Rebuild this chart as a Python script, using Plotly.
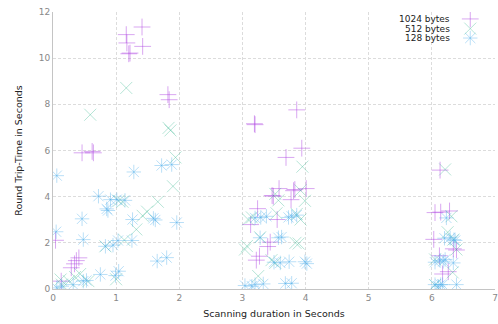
import plotly.graph_objects as go

# 1024 bytes
x1024 = [0.04, 0.13, 0.29, 0.34, 0.37, 0.41, 0.46, 0.62, 0.64,
         1.16, 1.17, 1.20, 1.22, 1.41, 1.42, 1.82, 1.84,
         3.19, 3.20, 3.86, 3.94, 3.69, 3.58, 3.49, 3.47, 3.81, 3.83, 4.01, 3.77,
         3.24, 3.55, 3.13, 3.44, 3.40, 3.27, 3.22,
         6.13, 6.05, 6.14, 6.28, 6.03, 6.34, 6.39, 6.12, 6.17, 6.26]
y1024 = [2.11, 0.34, 0.92, 1.09, 1.23, 1.35, 5.90, 5.96, 5.90,
         11.02, 10.66, 10.19, 10.22, 11.35, 10.51, 8.42, 8.20,
         7.16, 7.12, 7.76, 6.10, 5.70, 4.35, 4.02, 4.05, 4.26, 4.31, 4.35, 3.87,
         3.48, 3.01, 2.79, 2.03, 1.84, 1.42, 1.25,
         5.15, 3.31, 3.33, 3.38, 2.15, 1.74, 1.69, 1.44, 0.65, 0.75]

# 512 bytes
x512 = [0.59, 1.16, 1.83, 1.86, 1.94, 1.90, 1.66, 1.49, 1.42, 1.32, 1.13, 1.04, 1.10,
        0.83, 0.43, 0.35, 0.25, 0.14, 0.12, 0.56, 1.00,
        3.95, 3.52, 3.57, 3.92, 3.99, 3.15, 3.09, 3.54, 3.86, 3.92, 3.28, 3.84, 3.89,
        3.07, 3.04, 3.46, 3.52, 3.25,
        6.21, 6.31, 6.25, 6.34, 6.39, 6.05, 6.33, 6.05]
y512 = [7.55, 8.71, 6.98, 6.87, 5.70, 4.45, 3.78, 3.35, 3.17, 2.58, 2.12, 3.82, 3.78,
        1.85, 0.65, 0.52, 0.34, 0.19, 0.41, 0.34, 0.42,
        5.30, 4.12, 3.84, 4.27, 3.82, 3.10, 3.01, 3.28, 3.25, 3.01, 2.24, 2.00, 1.97,
        1.86, 1.71, 1.25, 1.13, 0.56,
        5.18, 3.15, 2.46, 2.14, 1.71, 1.28, 0.72, 0.17]

# 128 bytes
x128 = [0.06, 0.72, 0.91, 0.85, 0.87, 1.01, 1.14, 1.28, 1.72, 1.88, 0.46, 1.26, 1.59, 1.62,
        1.96, 0.05, 0.48, 0.83, 0.95, 1.03, 1.25, 1.65, 1.80, 0.75, 0.99, 1.04,
        0.53, 0.48, 0.32, 0.14, 0.06,
        3.04, 3.15, 3.20, 3.33, 3.68, 3.78, 3.50, 3.60, 3.74, 3.99, 4.02,
        3.28, 3.57, 3.62, 3.20, 3.29, 3.38, 3.73, 3.78, 3.86,
        6.05, 6.14, 6.39, 6.10, 6.17, 6.05, 6.13, 6.18, 6.21, 6.34, 6.20, 6.29,
        6.35, 6.37, 6.23]
y128 = [4.91, 4.02, 3.87, 3.47, 3.40, 3.87, 3.84, 5.07, 5.35, 5.39, 3.04, 3.01, 3.06, 2.99,
        2.88, 2.48, 2.14, 1.85, 1.90, 2.10, 2.10, 1.21, 1.36, 0.63, 0.58, 0.77,
        0.37, 0.34, 0.19, 0.12, 0.05,
        0.15, 0.12, 0.19, 0.22, 0.24, 0.25, 1.16, 1.13, 1.18, 1.18, 1.10,
        2.22, 2.22, 2.25, 3.08, 3.10, 3.15, 3.10, 3.15, 3.20,
        0.19, 0.19, 0.19, 0.12, 0.19, 1.16, 1.24, 1.20, 1.28, 1.13, 2.20, 2.22,
        2.14, 2.10, 3.08]

labels = ["1024 bytes", "512 bytes", "128 bytes"]
xticks = [0, 1, 2, 3, 4, 5, 6, 7]
yticks = [0, 2, 4, 6, 8, 10, 12]

FONT = "DejaVu Sans"
series = [
    (x1024, y1024, "cross-thin-open", "rgba(175,70,225,0.6)", 12),
    (x512, y512, "x-thin-open", "rgba(50,180,140,0.45)", 12),
    (x128, y128, "asterisk-open", "rgba(80,175,235,0.5)", 12),
]

fig = go.Figure()
for (xs, ys, sym, col, sz), name in zip(series, labels):
    fig.add_trace(go.Scatter(
        x=xs, y=ys, mode="markers", name=name, showlegend=False,
        marker=dict(symbol=sym, size=sz, color=col, line=dict(color=col, width=0.8)),
        hoverinfo="skip"))

# custom legend (symbol on the right of right-aligned text)
leg_y = [0.975, 0.94, 0.906]
for (xs, ys, sym, col, sz), name, ly in zip(series, labels, leg_y):
    fig.add_trace(go.Scatter(
        x=[0.944], y=[ly], xaxis="x2", yaxis="y2", mode="markers", showlegend=False,
        marker=dict(symbol=sym, size=sz, color=col, line=dict(color=col, width=0.8)),
        hoverinfo="skip"))
    fig.add_annotation(x=0.903, y=ly, xref="x2", yref="y2", text=name, showarrow=False,
                       xanchor="right", yanchor="middle",
                       font=dict(family=FONT, size=9, color="#222"))

fig.update_layout(
    width=498, height=324,
    margin=dict(l=53, r=3, t=12, b=35, autoexpand=False),
    plot_bgcolor="white", paper_bgcolor="white",
    font=dict(family=FONT, size=9, color="#888"),
    xaxis=dict(range=[0, 7], tickvals=xticks, showgrid=True, gridcolor="#dcdcdc",
               griddash="3px,2px", gridwidth=1, zeroline=False, automargin=False,
               showline=True, linecolor="#c4c4c4", linewidth=1,
               ticks="", ticklen=0,
               title=dict(text="Scanning duration in Seconds", standoff=8,
                          font=dict(family=FONT, size=9.5, color="#222"))),
    yaxis=dict(range=[0, 12], tickvals=yticks, showgrid=True, gridcolor="#dcdcdc",
               griddash="3px,2px", gridwidth=1, zeroline=False, automargin=False,
               showline=True, linecolor="#c4c4c4", linewidth=1,
               ticks="", ticklen=0,
               title=dict(text="Round Trip-Time in Seconds", standoff=14,
                          font=dict(family=FONT, size=9.5, color="#222"))),
    xaxis2=dict(range=[0, 1], overlaying="x", visible=False, domain=[0, 1]),
    yaxis2=dict(range=[0, 1], overlaying="y", visible=False),
)

fig.write_html("out.html")
